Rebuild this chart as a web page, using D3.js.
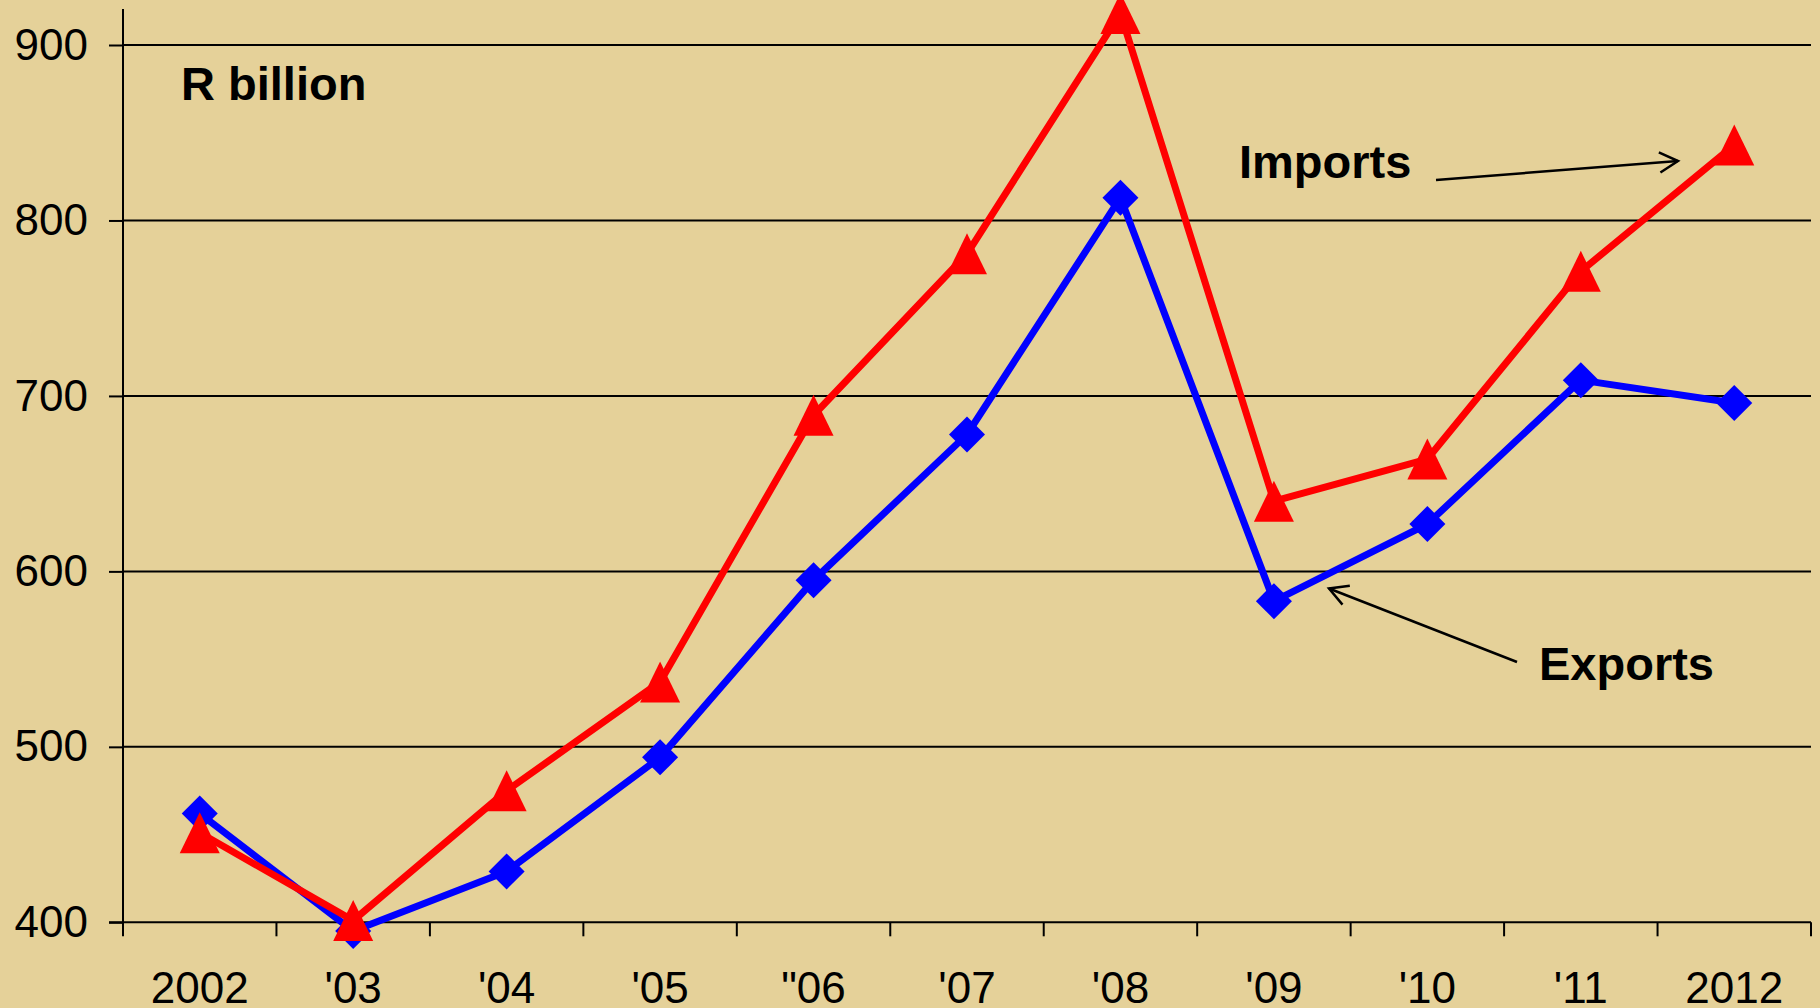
<!DOCTYPE html>
<html>
<head>
<meta charset="utf-8">
<script src="https://cdn.jsdelivr.net/npm/d3@7"></script>
<style>
  html, body { margin: 0; padding: 0; background: #E5D199; }
  svg { display: block; }
  text { font-family: "Liberation Sans", Arial, sans-serif; fill: #000; }
</style>
</head>
<body>
<svg id="chart" width="1820" height="1008"></svg>
<script>
// South African trade, R billion
const years = ["2002", "'03", "'04", "'05", "\"06", "'07", "'08", "'09", "'10", "'11", "2012"];
const exportsR = [462, 395, 429, 494, 595, 678, 813, 583, 627, 709, 696];
const importsR = [451, 401, 475, 537, 689, 781, 918, 640, 664, 771, 843];
const yTicks = [400, 500, 600, 700, 800, 900];

const W = 1820, H = 1008;
const left = 123, right = 1811, bottom = 922.3, axisTop = 9;

const svg = d3.select("#chart");
svg.append("rect").attr("width", W).attr("height", H).attr("fill", "#E5D199");

const x = d3.scaleBand().domain(years).range([left, right]).padding(0);
const y = d3.scaleLinear().domain([400, 900]).range([bottom, 45]);
const cx = d => x(d) + x.bandwidth() / 2;

// horizontal gridlines
svg.append("g")
  .selectAll("line").data(yTicks.slice(1)).join("line")
  .attr("x1", left).attr("x2", right)
  .attr("y1", d => y(d)).attr("y2", d => y(d))
  .attr("stroke", "#000").attr("stroke-width", 2);

// y axis
const yAxis = d3.axisLeft(y).tickValues(yTicks).tickSize(14).tickPadding(21).tickFormat(d3.format("d"));
const gy = svg.append("g").attr("transform", `translate(${left},0)`).call(yAxis);
gy.select(".domain").remove();
gy.selectAll(".tick line").attr("stroke", "#000").attr("stroke-width", 2);
gy.selectAll(".tick text")
  .style("font-family", "'Liberation Sans', Arial, sans-serif")
  .style("font-size", "44px").attr("fill", "#000");
svg.append("line").attr("x1", left).attr("x2", left).attr("y1", axisTop).attr("y2", bottom)
  .attr("stroke", "#000").attr("stroke-width", 2);

// x axis: ticks on category boundaries, labels centred in each category
svg.append("line").attr("x1", left - 14).attr("x2", right).attr("y1", bottom).attr("y2", bottom)
  .attr("stroke", "#000").attr("stroke-width", 2);
const edges = years.map(d => x(d)).concat([right]);
svg.append("g").selectAll("line").data(edges).join("line")
  .attr("x1", d => d).attr("x2", d => d)
  .attr("y1", bottom).attr("y2", bottom + 14)
  .attr("stroke", "#000").attr("stroke-width", 2);
svg.append("g").selectAll("text").data(years).join("text")
  .attr("x", d => cx(d)).attr("y", 1003)
  .attr("text-anchor", "middle")
  .style("font-size", "44px")
  .text(d => d);

const line = d3.line().x((d, i) => cx(years[i])).y(d => y(d));

// Exports: blue line with diamonds
svg.append("path").datum(exportsR).attr("d", line)
  .attr("fill", "none").attr("stroke", "#0000FF").attr("stroke-width", 7)
  .attr("stroke-linejoin", "round");
svg.append("g").selectAll("path").data(exportsR).join("path")
  .attr("transform", (d, i) => `translate(${cx(years[i])},${y(d)})`)
  .attr("d", "M0,-18L18,0L0,18L-18,0Z")
  .attr("fill", "#0000FF");

// Imports: red line with triangles
svg.append("path").datum(importsR).attr("d", line)
  .attr("fill", "none").attr("stroke", "#FF0000").attr("stroke-width", 7)
  .attr("stroke-linejoin", "round");
svg.append("g").selectAll("path").data(importsR).join("path")
  .attr("transform", (d, i) => `translate(${cx(years[i])},${y(d)})`)
  .attr("d", "M0,-20.5L20,20.5L-20,20.5Z")
  .attr("fill", "#FF0000");

// unit label
svg.append("text").attr("x", 181).attr("y", 100)
  .style("font-size", "47px").style("font-weight", "bold").text("R billion");

// series labels with pointer arrows
function arrow(x1, y1, x2, y2) {
  svg.append("line").attr("x1", x1).attr("y1", y1).attr("x2", x2).attr("y2", y2)
    .attr("stroke", "#000").attr("stroke-width", 2.5);
  const a = Math.atan2(y2 - y1, x2 - x1), len = 21, spread = 0.5;
  const p = t => [x2 - len * Math.cos(a + t), y2 - len * Math.sin(a + t)];
  const [p1, p2] = [p(spread), p(-spread)];
  svg.append("path")
    .attr("d", `M${p1[0]},${p1[1]}L${x2},${y2}L${p2[0]},${p2[1]}`)
    .attr("fill", "none").attr("stroke", "#000").attr("stroke-width", 2.5);
}
svg.append("text").attr("x", 1239).attr("y", 178)
  .style("font-size", "47px").style("font-weight", "bold").text("Imports");
arrow(1436, 180, 1678, 161);

svg.append("text").attr("x", 1539).attr("y", 680)
  .style("font-size", "47px").style("font-weight", "bold").text("Exports");
arrow(1517, 662, 1329, 588.5);
</script>
</body>
</html>
